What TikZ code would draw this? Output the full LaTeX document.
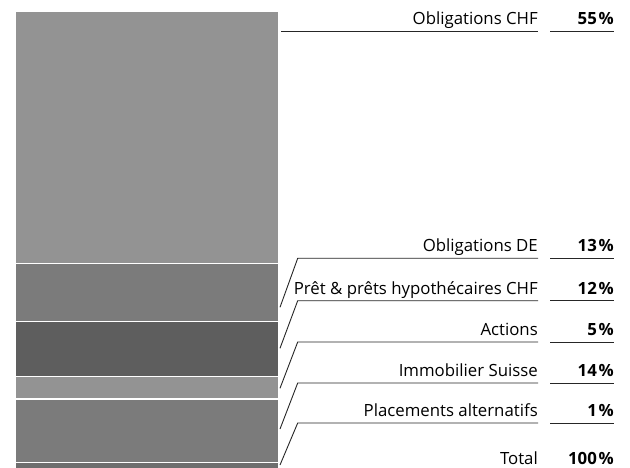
\documentclass[tikz,border=0pt]{standalone}
\usepackage{fontspec}
\setmainfont{Open Sans}
\newcommand{\pc}{\kern1.8pt\%}
\begin{document}
\begin{tikzpicture}[x=1pt,y=-1pt,
  seg/.style={draw=white, line width=1.5pt},
  lab/.style={anchor=base east, inner sep=0pt, font=\fontsize{16.8}{18}\selectfont},
  pct/.style={anchor=base east, inner sep=0pt, font=\fontsize{16.8}{18}\selectfont\bfseries},
  rule/.style={draw=black!85, line width=0.9pt}]
\useasboundingbox (0,0) rectangle (630,468);
% bar segments
\fill[fill=white] (0,0) rectangle (630,468);
\path[seg, fill={rgb,255:red,147;green,147;blue,147}] (15.7,11.3) rectangle (279,263.3);
\path[seg, fill={rgb,255:red,123;green,123;blue,123}] (15.7,263.3) rectangle (279,321.7);
\path[seg, fill={rgb,255:red,94;green,94;blue,94}] (15.7,321.7) rectangle (279,376.3);
\path[seg, fill={rgb,255:red,147;green,147;blue,147}] (15.7,376.3) rectangle (279,399);
\path[seg, fill={rgb,255:red,123;green,123;blue,123}] (15.7,399) rectangle (279,462.7);
\path[seg, fill={rgb,255:red,110;green,110;blue,110}] (15.7,462.7) rectangle (279,468.5);
% leader anchors
\coordinate (b1) at (281,31);
\coordinate (b2) at (280,307.3);
\coordinate (b3) at (280,348.3);
\coordinate (b4) at (280,388.3);
\coordinate (b5) at (280,429);
\coordinate (b6) at (280,465);
\coordinate (k2) at (297.7,258.3);
\coordinate (k3) at (297.7,300.7);
\coordinate (k4) at (297.7,342);
\coordinate (k5) at (297.7,383);
\coordinate (k6) at (297.7,423);
\coordinate (e1) at (538,31);
\coordinate (e2) at (538,258.3);
\coordinate (e3) at (538,300.7);
\coordinate (e4) at (538,342);
\coordinate (e5) at (538,383);
\coordinate (e6) at (538,423);
\coordinate (p1) at (550,31);
\coordinate (p2) at (550,258.3);
\coordinate (p3) at (550,300.7);
\coordinate (p4) at (550,342);
\coordinate (p5) at (550,383);
\coordinate (p6) at (550,423);
\coordinate (q1) at (614,31);
\coordinate (q2) at (614,258.3);
\coordinate (q3) at (614,300.7);
\coordinate (q4) at (614,342);
\coordinate (q5) at (614,383);
\coordinate (q6) at (614,423);
% leaders
\draw[rule] (b1) -- (e1);
\foreach \i in {2,...,6}{
  \draw[rule] (b\i) -- (k\i) -- (e\i);
}
\foreach \i in {1,...,6}{
  \draw[rule] (p\i) -- (q\i);
}
% labels
\node[lab] (l1) at (538,24.8) {Obligations CHF};
\node[pct] (n1) at (614,24.8) {55\pc};
\node[lab] (l2) at (538,252) {Obligations DE};
\node[pct] (n2) at (614,252) {13\pc};
\node[lab] (l3) at (538,294.4) {Prêt \& prêts hypothécaires CHF};
\node[pct] (n3) at (614,294.4) {12\pc};
\node[lab] (l4) at (538,335.7) {Actions};
\node[pct] (n4) at (614,335.7) {5\pc};
\node[lab] (l5) at (538,376.7) {Immobilier Suisse};
\node[pct] (n5) at (614,376.7) {14\pc};
\node[lab] (l6) at (538,416.7) {Placements alternatifs};
\node[pct] (n6) at (614,416.7) {1\pc};
\node[lab] (l7) at (538,464.3) {Total};
\node[pct] (n7) at (614,464.3) {100\pc};
\end{tikzpicture}
\end{document}
